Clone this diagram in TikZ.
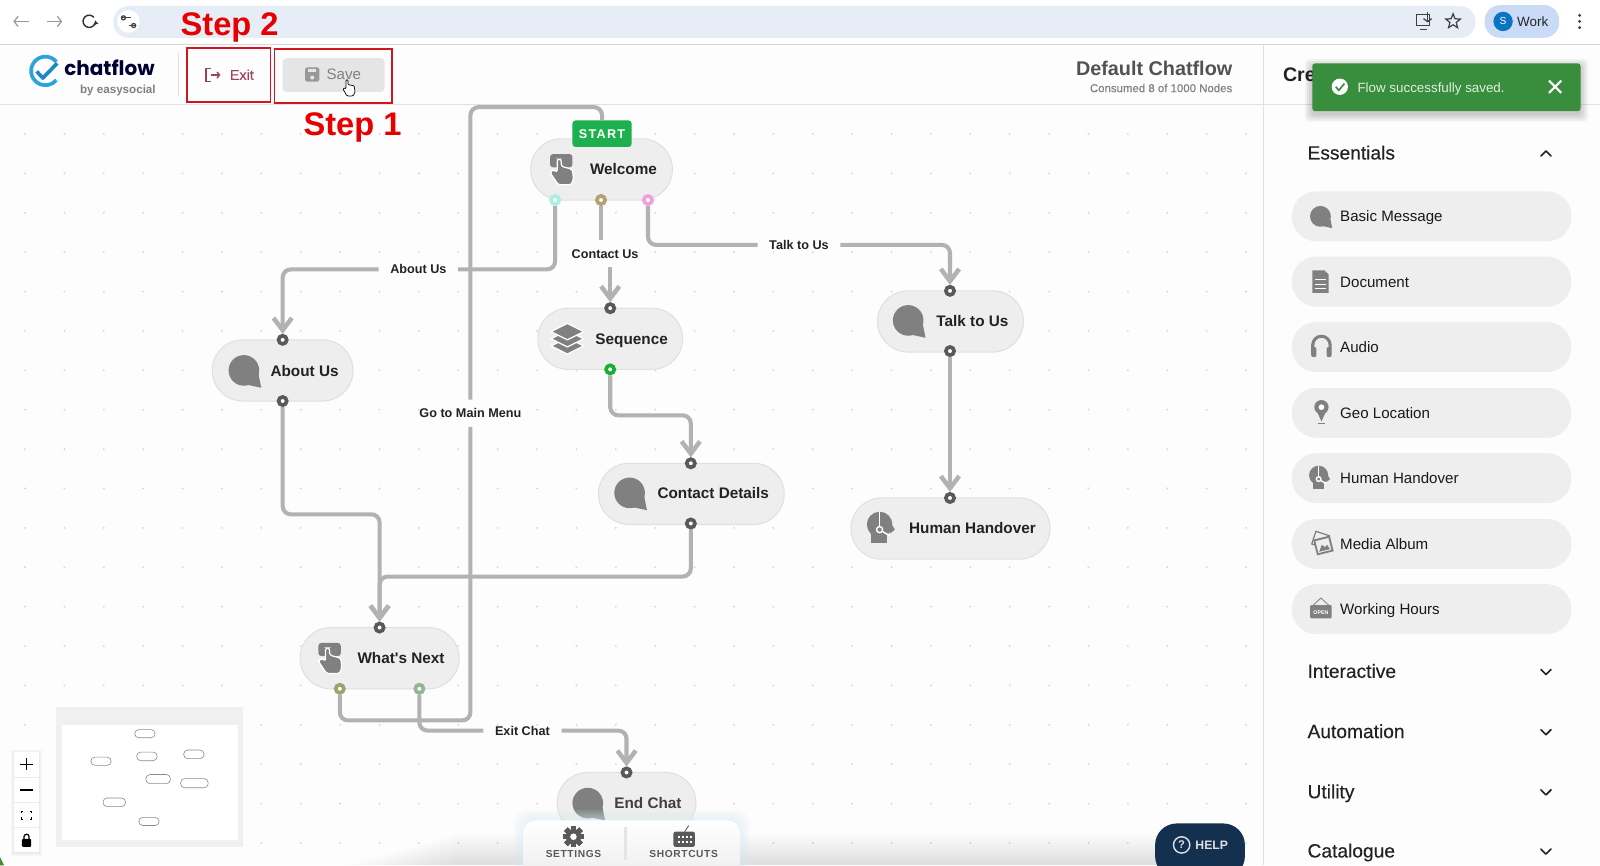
\documentclass[tikz,border=0pt]{standalone}
\usepackage{fontspec}
\setmainfont{Liberation Sans}
\newfontfamily\medf[FakeBold=0.25]{Liberation Sans}
\newfontfamily\logof{Poppins}
\usetikzlibrary{arrows.meta,shapes.geometric,calc}
\definecolor{canvas}{HTML}{FDFDFD}
\definecolor{edgegray}{HTML}{B2B2B2}
\definecolor{pillfill}{HTML}{EEEEEE}
\definecolor{pillline}{HTML}{E0E0E0}
\definecolor{icongray}{HTML}{808080}
\definecolor{ink}{HTML}{222222}
\definecolor{redbox}{HTML}{D0161E}
\definecolor{stepred}{HTML}{E60000}
\definecolor{addr}{HTML}{E7EDF6}
\definecolor{toast}{HTML}{388E3C}
\definecolor{navy}{HTML}{14304F}
\definecolor{exitc}{HTML}{A0405F}
\definecolor{pcyan}{HTML}{A8F0E4}
\definecolor{ptan}{HTML}{B5A070}
\definecolor{ppink}{HTML}{F0A0D8}
\definecolor{pgreen}{HTML}{18B030}
\definecolor{polive}{HTML}{A0A070}
\definecolor{psage}{HTML}{92B598}
\definecolor{startg}{HTML}{1EB04E}
\definecolor{profpill}{HTML}{C9DBF6}
\definecolor{profblue}{HTML}{0A74C4}
\definecolor{logoa}{HTML}{29A3DC}
\definecolor{logob}{HTML}{1F86C8}
\definecolor{leaf}{HTML}{4C8A2E}
\definecolor{glow}{HTML}{D8ECF4}
\pgfdeclarelayer{bglayer}\pgfdeclarelayer{edgelayer}
\pgfsetlayers{bglayer,edgelayer,main}
\tikzset{
  pill/.style={draw=pillline,fill=pillfill,line width=.5pt,rounded corners=15pt,inner sep=0,minimum height=30pt},
  port/.style={circle,draw=#1,fill=white,line width=1.8pt,inner sep=0,minimum size=4pt},
  port/.default={ink!75},
  title/.style={font=\fontsize{7.5}{9}\selectfont\bfseries,text=ink,anchor=mid,inner sep=0},
  elabel/.style={font=\fontsize{6.2}{8}\selectfont\bfseries,text=ink,anchor=center,inner xsep=5.5pt,inner ysep=0,text height=4.5pt,text depth=0pt,minimum height=13pt},
  edge/.style={draw=edgegray,line width=2pt,rounded corners=4pt},
  edgea/.style={edge,-{Straight Barb[length=6pt,width=9pt,line width=2.2pt]}},
  sidepill/.style={fill=pillfill,rounded corners=12pt,inner sep=0,minimum width=137pt,minimum height=24.5pt},
  sidetext/.style={font=\fontsize{7.4}{9}\selectfont,text=black!90,anchor=mid west,inner sep=0},
  sect/.style={font=\fontsize{9.4}{11}\selectfont\medf,text=ink,anchor=mid west,inner sep=0},
  chev/.style={draw=ink,line width=.8pt,line cap=round,line join=round},
  mini/.style={draw=black!45,fill=white,line width=.3pt,rounded corners=2pt},
  bubbleicon/.pic={
    \fill[icongray] (0,0) circle[radius=15];
    \fill[icongray] (14,2)--(17,17)--(3,14)--cycle;},
  handicon/.pic={
    \fill[icongray,rounded corners=1.5pt] (-11,-15) rectangle (11,-2);
    \fill[icongray,draw=white,line width=.6pt,rounded corners=1.2pt]
      (-4,-10)--(0,-10)--(0,-3)--(11,0)--(12,9)--(10,15)--(-3,15)--(-11,3)--(-8,0)--(-4,3)--cycle;},
  stackicon/.pic={
    \foreach \d in {14,7,0}{
      \fill[icongray,draw=white,line width=.6pt] (0,-15+\d)--(16,-7+\d)--(0,1+\d)--(-16,-7+\d)--cycle;}},
  humanicon/.pic={
    \fill[icongray] (-1,-3) circle[radius=12.5];
    \fill[icongray] (-9,4) rectangle (6,15);
    \fill[icongray] (9,-6)--(14,2)--(9,6)--cycle;
    \draw[white,line width=.7pt] (-1,-15)--(-1,-1);
    \draw[white,line width=.7pt] (-1,2) circle[radius=3];
    \draw[white,line width=.7pt] (2,4)--(9,8);},
  docicon/.pic={
    \fill[icongray] (-8,-11)--(4,-11)--(8,-7)--(8,11)--(-8,11)--cycle;
    \foreach \y in {-2,3,7}{\draw[white,line width=.5pt] (-5,\y)--(5,\y);}},
  phoneicon/.pic={
    \draw[icongray,line width=1.5pt] (-8.5,3)--(-8.5,-1) arc[start angle=180,end angle=360,radius=8.5]--(8.5,3);
    \fill[icongray,rounded corners=1pt] (-10,1) rectangle (-5,11);
    \fill[icongray,rounded corners=1pt] (5,1) rectangle (10,11);},
  pinicon/.pic={
    \fill[icongray] (-6.3,-5)--(0,9)--(6.3,-5)--cycle;
    \fill[icongray] (0,-5) circle[radius=7];
    \fill[white] (0,-5) circle[radius=2.8];
    \draw[icongray,line width=.5pt] (-3.5,11)--(3.5,11);},
  albumicon/.pic={
    \draw[icongray,line width=.6pt,fill=pillfill,rotate=-18] (-9,-10) rectangle (5,3);
    \draw[icongray,line width=.9pt,fill=pillfill,rotate=14] (-6,-5) rectangle (9,9);
    \fill[icongray,rotate=14] (-4,7)--(0,1)--(3,4)--(5,2)--(7,7)--cycle;},
}
\newcommand{\sideitem}[3]{%
  \node[sidepill] (#1) at (1403,#2) {};
  \node[sidetext] (#1t) at (1313,#2) {#3};}
\newcommand{\sectrow}[3]{%
  \node[sect] (#1) at (1281,#2+1) {#3};
  \draw[chev] (1510,#2-2) -- (1515,#2+3) -- (1520,#2-2);}
\begin{document}
\begin{tikzpicture}[x=0.5pt,y=-0.5pt]
\useasboundingbox (0,0) rectangle (1568,847.7);
\begin{pgfonlayer}{bglayer}
  \fill[canvas] (0,0) rectangle (1568,848);
  \foreach \i in {0,...,31}{\foreach \j in {0,...,18}{
    \fill[black!16] (24.5+38.6*\i,131.3+38.6*\j) circle[radius=1];}}
  % right panel
  \fill[canvas] (1238,44) rectangle (1568,848);
  \draw[black!12,line width=.5pt] (1238,44) -- (1238,848);
  % header
  \fill[canvas] (0,44) rectangle (1568,102);
  \draw[black!12,line width=.5pt] (0,102) -- (1568,102);
  \draw[black!12,line width=.5pt] (1238,44) -- (1238,102);
  \draw[black!12,line width=.5pt] (175,52) -- (175,95);
  % browser bar
  \fill[white] (0,0) rectangle (1568,43);
  \draw[black!16,line width=.5pt] (0,43.5) -- (1568,43.5);
  \fill[addr,rounded corners=7.5pt] (111,6) rectangle (1446,37);
\end{pgfonlayer}
% browser chrome
\draw[black!40,line width=.6pt,-{Straight Barb[length=2pt,width=5pt]}] (28,21) -- (13,21);
\draw[black!40,line width=.6pt,-{Straight Barb[length=2pt,width=5pt]}] (46,21) -- (61,21);
\draw[black!80,line width=.7pt,-{Latex[length=2pt,width=2.6pt]}] (92,17) arc[start angle=320,end angle=-10,radius=6];
\fill[white] (126,21) circle[radius=11];
\draw[black!75,line width=.6pt] (120,17.5)--(128,17.5) (126,25)--(132,25);
\draw[black!75,line width=.6pt] (121,17.5) circle[radius=2] (131,25) circle[radius=2];
\draw[black!75,line width=.6pt] (1388,14) rectangle (1401,25) (1392,29)--(1398,29);
\draw[black!75,line width=.6pt,-{Straight Barb[length=1.5pt,width=4pt]}] (1399,12)--(1399,22);
\node[star,star points=5,star point ratio=2.3,draw=black!75,line width=.6pt,inner sep=0,minimum size=7.5pt] (favstar) at (1424,21) {};
\fill[profpill,rounded corners=7.5pt] (1455,5) rectangle (1528,37);
\fill[profblue] (1473,21) circle[radius=9.5];
\node[font=\fontsize{5}{6}\selectfont,text=white,inner sep=0] (profileS) at (1473,21) {S};
\node[font=\fontsize{6.6}{8}\selectfont,text=black!85,inner sep=0] (profileW) at (1502,21) {Work};
\foreach \y in {15,21,27}{\fill[black!75] (1548,\y) circle[radius=1.6];}
% logo
\draw[logoa,line width=1.8pt] (44.5,69.5) ++(320:14) arc[start angle=320,end angle=40,radius=14];
\draw[logob,line width=1.8pt,line join=round] (36,70) -- (42,76.5) -- (56,62);
\node[font=\fontsize{9.8}{12}\selectfont\logof\bfseries,text=black!80!blue,anchor=mid east,inner sep=0] (logo) at (152,69) {chatflow};
\node[font=\fontsize{5.7}{7}\selectfont\bfseries,text=black!50,anchor=mid east,inner sep=0] (logosub) at (153,86.5) {by easysocial};
% Exit
\draw[exitc,line width=.7pt] (207,67)--(202,67)--(202,80)--(207,80);
\draw[exitc,line width=.7pt,-{Straight Barb[length=1.2pt,width=3pt]}] (207,73.5)--(216,73.5);
\node[font=\fontsize{7}{9}\selectfont\medf,text=exitc,anchor=mid,inner sep=0] (exit) at (237,73) {Exit};
% Save
\node[fill=black!10,rounded corners=2pt,minimum width=50pt,minimum height=16.5pt,inner sep=0] (savebtn) at (327,73.5) {};
\fill[black!40,rounded corners=.8pt] (299,66) rectangle (313,80);
\fill[black!10] (302,67.5) rectangle (310,71);
\fill[black!10] (306,76) circle[radius=2];
\node[font=\fontsize{7.4}{9}\selectfont,text=black!50,anchor=mid,inner sep=0] (save) at (337,73) {Save};
% red boxes
\node[draw=redbox,line width=.8pt,minimum width=41pt,minimum height=26.5pt,inner sep=0] (step2box) at (224,73.5) {};
\node[draw=redbox,line width=.8pt,minimum width=57.5pt,minimum height=26.5pt,inner sep=0] (step1box) at (326.5,74.5) {};
\node[font=\fontsize{16}{18}\selectfont\bfseries,text=stepred,anchor=mid,inner sep=0] (step2) at (225,29.5) {Step 2};
\node[font=\fontsize{16}{18}\selectfont\bfseries,text=stepred,anchor=mid,inner sep=0] (step1) at (345.5,127.5) {Step 1};
% hand cursor
\filldraw[fill=white,draw=black,line width=.35pt,line join=round,rounded corners=.5pt]
  (339,78)--(341,78)--(341,83)--(347,84)--(348,90)--(346,94)--(340,94)--(336,87)--(338,86)--(339,87)--cycle;
% title
\node[font=\fontsize{9.7}{12}\selectfont\bfseries,text=black!68,anchor=mid east,inner sep=0] (dflt) at (1208,69) {Default Chatflow};
\node[font=\fontsize{5.6}{7}\selectfont\medf,text=black!50,anchor=mid east,inner sep=0] (cons) at (1208,85) {Consumed 8 of 1000 Nodes};
\node[font=\fontsize{9.6}{12}\selectfont\bfseries,text=ink,anchor=mid west,inner sep=0] (cre) at (1257,74.5) {Cre};
% flow nodes
\node[pill,minimum width=69.5pt] (wel) at (589.5,166) {};
\node[pill,minimum width=69pt] (abt) at (277,363) {};
\node[pill,minimum width=71pt] (seq) at (598,332) {};
\node[pill,minimum width=71.5pt] (tlk) at (931.5,315) {};
\node[pill,minimum width=91pt] (con) at (677.5,484) {};
\node[pill,minimum width=97.5pt] (hum) at (931.5,518) {};
\node[pill,minimum width=78pt] (nxt) at (372,645) {};
\node[pill,minimum width=68pt] (end) at (614,787) {};
\node[title] (welt) at (611,166) {Welcome};
\node[title] (abtt) at (298.5,363.5) {About Us};
\node[title] (seqt) at (619,332.5) {Sequence};
\node[title] (tlkt) at (953,314.5) {Talk to Us};
\node[title] (cont) at (699,483.5) {Contact Details};
\node[title] (humt) at (953,517.5) {Human Handover};
\node[title] (nxtt) at (393,645) {What\textquotesingle s Next};
\node[title,text=black!75] (endt) at (635,787) {End Chat};
\pic at (550,166) {handicon};
\pic at (239,363) {bubbleicon};
\pic at (556,332) {stackicon};
\pic at (890,314) {bubbleicon};
\pic at (617,483) {bubbleicon};
\pic at (863,517) {humanicon};
\pic at (323,645) {handicon};
\pic at (576,787) {bubbleicon};
% ports
\node[port=pcyan] (w1) at (544,196) {};
\node[port=ptan] (w2) at (589,196) {};
\node[port=ppink] (w3) at (635,196) {};
\node[port] (ain) at (277,333) {};
\node[port] (aout) at (277,393) {};
\node[port] (sin) at (598,302) {};
\node[port=pgreen] (sout) at (598,362) {};
\node[port] (tin) at (931,285) {};
\node[port] (tout) at (931,344) {};
\node[port] (cin) at (677,454) {};
\node[port] (cout) at (677,513) {};
\node[port] (hin) at (931,488) {};
\node[port] (nin) at (372,615) {};
\node[port=polive] (n1) at (333,675) {};
\node[port=psage] (n2) at (411,675) {};
\node[port] (ein) at (614,757) {};
% START
\node[fill=startg,rounded corners=1.5pt,minimum width=29pt,minimum height=13pt,inner sep=0,
      font=\fontsize{6.2}{8}\selectfont\bfseries\addfontfeature{LetterSpace=10},text=white] (startb) at (590,131) {START};
% edge labels
\node[elabel] (labt) at (410,264) {About Us};
\node[elabel] (lcon) at (593,248.5) {Contact Us};
\node[elabel] (ltlk) at (783,240) {Talk to Us};
\node[elabel] (lgo) at (461,405) {Go to Main Menu};
\node[elabel] (lext) at (512,716) {Exit Chat};
\coordinate (goa) at (461,706);
\coordinate (gob) at (590,105);
\begin{pgfonlayer}{edgelayer}
  \draw[edge] (w1) |- (labt.east);
  \draw[edgea] (labt.west) -| (ain);
  \draw[edge] (w2) -- (w2 |- lcon.north);
  \draw[edgea] (sin |- lcon.south) -- (sin);
  \draw[edge] (w3) |- (ltlk.west);
  \draw[edgea] (ltlk.east) -| (tin);
  \draw[edgea] (aout) -- (aout |- 0,504) -- (nin |- 0,504) -- (nin);
  \draw[edgea] (sout) -- (sout |- 0,407) -- (cin |- 0,407) -- (cin);
  \draw[edgea] (tout) -- (hin);
  \draw[edgea] (cout) -- (cout |- 0,565) -- (nin |- 0,565) -- (nin);
  \draw[edge] (n1) |- (goa) -- (lgo.south);
  \draw[edge] (lgo.north) |- (gob) -- (startb.north);
  \draw[edge] (n2) |- (lext.west);
  \draw[edgea] (lext.east) -| (ein);
\end{pgfonlayer}
% sidebar
\node[sect] (ess) at (1281,151) {Essentials};
\draw[chev] (1510,153) -- (1515,148) -- (1520,153);
\sideitem{sa}{212}{Basic Message}
\sideitem{sb}{276}{Document}
\sideitem{sc}{340}{Audio}
\sideitem{sd}{404.5}{Geo Location}
\sideitem{se}{468.5}{Human Handover}
\sideitem{sf}{533}{Media Album}
\sideitem{sg}{597}{Working Hours}
\pic[scale=.68] at (1294,212) {bubbleicon};
\pic at (1294,276) {docicon};
\pic at (1295,339) {phoneicon};
\pic at (1295,404) {pinicon};
\pic[scale=.75] at (1293,468) {humanicon};
\pic at (1295,533) {albumicon};
\fill[icongray,rounded corners=.5pt] (1284,593) rectangle (1305,606);
\draw[icongray,line width=.4pt] (1287,593)--(1294.5,586)--(1302,593);
\node[font=\fontsize{2.6}{3}\selectfont\bfseries,text=white,inner sep=0] (opensign) at (1294.5,600) {OPEN};
\sectrow{si}{658}{Interactive}
\sectrow{sj}{717}{Automation}
\sectrow{sk}{776}{Utility}
\sectrow{sl}{834}{Catalogue}
% toast
\foreach \o in {7,5,3,1}{\fill[black,opacity=.05,rounded corners=2pt] (1286-\o,62-\o+3) rectangle (1549+\o,109+\o+3);}
\node[fill=toast,rounded corners=1.5pt,minimum width=131.5pt,minimum height=23.5pt,inner sep=0] (toastbox) at (1417.5,85.5) {};
\fill[white] (1313,85) circle[radius=8];
\draw[toast,line width=.8pt] (1309,85)--(1312,88.5)--(1317.5,82);
\node[font=\fontsize{6.55}{8}\selectfont,text=white!85!toast,anchor=mid west,inner sep=0] (toastt) at (1330,85) {Flow successfully saved.};
\draw[white,line width=1pt] (1518,79)--(1530,91) (1530,79)--(1518,91);
% minimap
\fill[black!6] (55,693) rectangle (238,830);
\fill[white] (61,710) rectangle (233,823);
\draw[mini] (132,715) rectangle (152,723);
\draw[mini] (89,742) rectangle (109,750);
\draw[mini] (134,737) rectangle (154,745.5);
\draw[mini] (180,735) rectangle (200,743.5);
\draw[mini] (143,759) rectangle (167,768);
\draw[mini] (177,763) rectangle (204,772);
\draw[mini] (101,782) rectangle (123,790.5);
\draw[mini] (136,801) rectangle (156,809);
% zoom controls
\foreach \o in {3,2,1}{\fill[black,opacity=.025] (14-\o,737-\o+1) rectangle (38+\o,835+\o+1);}
\fill[white] (14,737) rectangle (38,835);
\draw[black!8,line width=.4pt] (14,761.5)--(38,761.5) (14,786.5)--(38,786.5) (14,811)--(38,811);
\draw[black,line width=.7pt] (20,749)--(32,749) (26,743)--(26,755) (20,774)--(32,774);
\draw[black,line width=.6pt] (21,797)--(21,795)--(23,795) (29,795)--(31,795)--(31,797) (31,801)--(31,803)--(29,803) (23,803)--(21,803)--(21,801);
\fill[black,rounded corners=.5pt] (21.5,822) rectangle (30.5,830);
\draw[black,line width=.6pt] (23.5,822) -- (23.5,820) arc[start angle=180,end angle=360,radius=2.5] -- (28.5,822);
\fill[leaf] (0,848)--(0,840)--(4,848)--cycle;
% bottom shade
\foreach \s in {0,...,15}{\fill[black,opacity=.009] (340+\s*7,848-\s*2-1) rectangle (1180-\s*3,848);}
\foreach \o in {10,8,6,4,2}{\fill[glow,opacity=.12,rounded corners=6pt] (513-\o,804-\o) rectangle (725+\o,860);}
\shade[top color=white,bottom color=black!7,rounded corners=6pt] (513,804) rectangle (725,860);
\draw[black!10,line width=1pt] (613,810)--(613,843);
\foreach \a in {0,45,...,315}{\fill[black!65,rotate around={\a:(562,820)}] (559.5,809.5) rectangle (564.5,830.5);}
\fill[black!65] (562,820) circle[radius=7.5];
\fill[white] (562,820) circle[radius=3.2];
\node[font=\fontsize{5}{6}\selectfont\bfseries\addfontfeature{LetterSpace=6},text=black!65,inner sep=0] (settings) at (562,836.5) {SETTINGS};
\node[font=\fontsize{5}{6}\selectfont\bfseries\addfontfeature{LetterSpace=6},text=black!65,inner sep=0] (shortcuts) at (670,836.5) {SHORTCUTS};
\fill[black!65,rounded corners=1pt] (660,815) rectangle (681,830);
\draw[black!65,line width=.4pt] (671,815)--(675,809);
\foreach \x in {664,668,672,676}{\fill[white] (\x,819.5) rectangle (\x+2,821.5);\fill[white] (\x,824) rectangle (\x+2,826);}
% help
\fill[navy,rounded corners=10.5pt] (1132,807) rectangle (1220,860);
\draw[white!85!navy,line width=.7pt] (1158,828) circle[radius=8];
\node[font=\fontsize{5.5}{7}\selectfont\bfseries,text=white!85!navy,inner sep=0] (helpq) at (1158,828) {?};
\node[font=\fontsize{6}{8}\selectfont\bfseries,text=white!85!navy,inner sep=0] (helpt) at (1187.5,828) {HELP};
\end{tikzpicture}
\end{document}
